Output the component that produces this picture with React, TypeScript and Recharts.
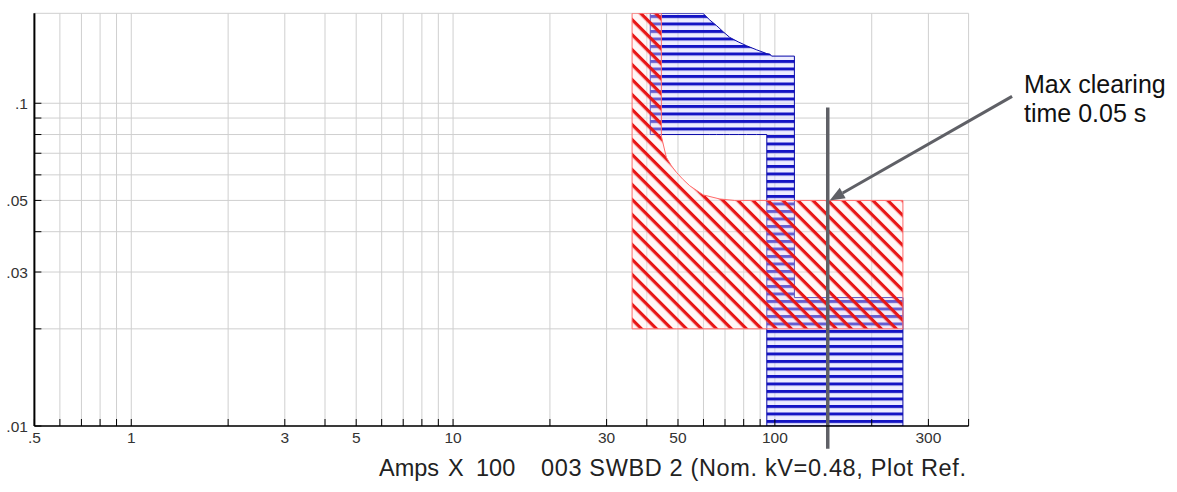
import React from "react";
import {
  ComposedChart,
  Area,
  XAxis,
  YAxis,
  CartesianGrid,
  ReferenceLine,
} from "recharts";

// axis ticks (Amps x 100 on x, seconds on y)
const xTickValues = [0.5, 0.6, 0.7, 0.8, 0.9, 1, 2, 3, 4, 5, 6, 7, 8, 9, 10, 20, 30, 40, 50, 60, 70, 80, 90, 100, 200, 300, 400];
const xTickText = [".5", "", "", "", "", "1", "", "3", "", "5", "", "", "", "", "10", "", "30", "", "50", "", "", "", "", "100", "", "300", ""];
const yTickValues = [0.01, 0.02, 0.03, 0.04, 0.05, 0.06, 0.07, 0.08, 0.09, 0.1];
const yTickText = [".01", "", ".03", "", ".05", "", "", "", "", ".1"];

// red band (diagonal hatch)
const redAmps = [36, 36, 44.4, 44.4, 46, 47.7, 49.5, 51.9, 54.4, 59.9, 67.5, 75, 250, 250];
const redLow = [0.02, 0.02, 0.02, 0.02, 0.02, 0.02, 0.02, 0.02, 0.02, 0.02, 0.02, 0.02, 0.02, 0.02];
const redHigh = [0.02, 0.19, 0.19, 0.079, 0.068, 0.064, 0.061, 0.058, 0.0555, 0.052, 0.0505, 0.05, 0.05, 0.02];

// blue band (horizontal hatch)
const blueAmps = [41, 41, 59.8, 62.8, 65.9, 69.1, 72.4, 76.9, 81.7, 87.8, 94.4, 94.4, 96.5, 97.7, 115, 115, 250, 250];
const blueLow = [0.08, 0.08, 0.08, 0.08, 0.08, 0.08, 0.08, 0.08, 0.08, 0.08, 0.08, 0.01, 0.01, 0.01, 0.01, 0.01, 0.01, 0.01];
const blueHigh = [0.08, 0.19, 0.19, 0.181, 0.174, 0.1665, 0.16, 0.155, 0.1507, 0.1464, 0.1425, 0.1425, 0.142, 0.14, 0.14, 0.025, 0.025, 0.01];

// max clearing marker
const clearAmps = 146;
const clearSpan = [0.097, 0.0085];
const arrowFrom = { x: 546, y: 0.105 };
const arrowTo = { x: 148, y: 0.05 };

const redData = redAmps.map((x, i) => ({ x, band: [redLow[i], redHigh[i]] }));
const blueData = blueAmps.map((x, i) => ({ x, band: [blueLow[i], blueHigh[i]] }));

const FONT = "'Liberation Sans', Arial, sans-serif";
const GRAY = "#5f6066";

const ArrowShape = (props: any) => {
  const { x1, y1, x2, y2 } = props;
  const ang = Math.atan2(y2 - y1, x2 - x1);
  const len = 15;
  const half = 6;
  const bx = x2 - len * Math.cos(ang);
  const by = y2 - len * Math.sin(ang);
  const px = -Math.sin(ang) * half;
  const py = Math.cos(ang) * half;
  return (
    <g>
      <line x1={x1} y1={y1} x2={bx} y2={by} stroke={GRAY} strokeWidth={3} />
      <polygon points={`${x2},${y2} ${bx + px},${by + py} ${bx - px},${by - py}`} fill={GRAY} />
    </g>
  );
};

export default function App() {
  return (
    <div style={{ position: "absolute", left: 0, top: 0, width: 1177, height: 492, background: "#fff", fontFamily: FONT }}>
      <ComposedChart
        width={1177}
        height={492}
        margin={{ top: 13.3, right: 208.4, left: 0.4, bottom: 36 }}
      >
        <defs>
          <pattern id="redHatch" patternUnits="userSpaceOnUse" width={10.6} height={10.6} patternTransform="rotate(45)">
            <rect width={10.6} height={10.6} fill="#ffe8e8" fillOpacity={0.35} />
            <rect y={0} width={10.6} height={3.2} fill="#e81616" />
          </pattern>
          <pattern id="blueHatch" patternUnits="userSpaceOnUse" width={8} height={7.5}>
            <rect width={8} height={7.5} fill="#d8d8ff" fillOpacity={0.45} />
            <rect y={0} width={8} height={3} fill="#1414c4" />
          </pattern>
        </defs>
        <CartesianGrid stroke="#cfcfcf" strokeWidth={1} />
        <XAxis
          dataKey="x"
          type="number"
          scale="log"
          domain={[0.5, 400]}
          allowDataOverflow
          ticks={xTickValues}
          interval={0}
          tickFormatter={(v: number) => xTickText[xTickValues.indexOf(v)] ?? ""}
          height={30}
          tickSize={-7}
          tickMargin={13}
          axisLine={{ stroke: "#000", strokeWidth: 1.5 }}
          tickLine={{ stroke: "#000" }}
          tick={{ fill: "#333", fontSize: 15.5, fontFamily: FONT }}
        />
        <YAxis
          type="number"
          scale="log"
          domain={[0.01, 0.19]}
          allowDataOverflow
          ticks={yTickValues}
          interval={0}
          tickFormatter={(v: number) => yTickText[yTickValues.indexOf(v)] ?? ""}
          width={34}
          tickSize={-7}
          tickMargin={13.5}
          axisLine={{ stroke: "#000", strokeWidth: 2 }}
          tickLine={{ stroke: "#000" }}
          tick={{ fill: "#333", fontSize: 15.5, fontFamily: FONT }}
        />
        <Area
          data={blueData}
          dataKey="band"
          type="linear"
          stroke="#0a0aa8"
          strokeWidth={1}
          fill="url(#blueHatch)"
          fillOpacity={1}
          dot={false}
          activeDot={false}
          isAnimationActive={false}
        />
        <Area
          data={redData}
          dataKey="band"
          type="linear"
          stroke="#ff6a6a"
          strokeWidth={1}
          fill="url(#redHatch)"
          fillOpacity={1}
          dot={false}
          activeDot={false}
          isAnimationActive={false}
        />
        <ReferenceLine
          segment={[{ x: clearAmps, y: clearSpan[0] }, { x: clearAmps, y: clearSpan[1] }]}
          ifOverflow="visible"
          stroke={GRAY}
          strokeWidth={3.5}
        />
        <ReferenceLine
          segment={[arrowFrom, arrowTo]}
          ifOverflow="visible"
          shape={ArrowShape}
        />
      </ComposedChart>

      <svg width={1177} height={492} style={{ position: "absolute", left: 0, top: 0, pointerEvents: "none" }}>
        <g fontFamily={FONT} fill="#111" fontSize={25}>
          <text x={1024} y={93.3}>Max clearing</text>
          <text x={1024} y={121.7}>time 0.05 s</text>
        </g>
        <g fontFamily={FONT} fill="#222" fontSize={23.5}>
          <text x={379} y={476}>Amps</text>
          <text x={448} y={476}>X</text>
          <text x={476} y={476}>100</text>
          <text x={541} y={476} textLength={425} lengthAdjust="spacing">003 SWBD 2 (Nom. kV=0.48, Plot Ref.</text>
        </g>
      </svg>
    </div>
  );
}
